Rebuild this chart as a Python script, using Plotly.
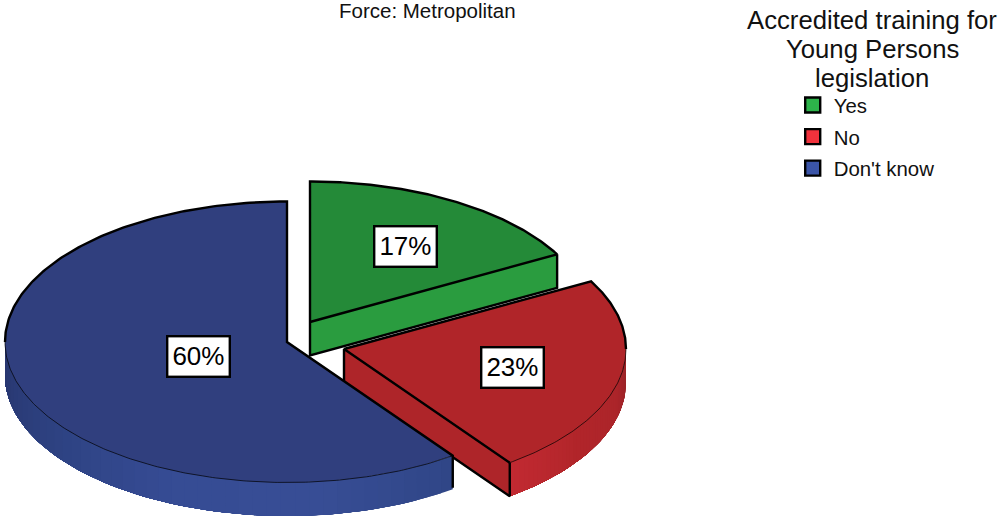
import numpy as np
import plotly.graph_objects as go

# Data
categories = ["Yes", "No", "Don't know"]
percent_values = [17, 23, 60]
percent_labels = ["17%", "23%", "60%"]
chart_title = "Force: Metropolitan"
legend_title_lines = ["Accredited training for", "Young Persons", "legislation"]

# Styles / geometry (pixel-based plot coordinates)
W, H = 999, 517
centres = [(310, 322), (344, 349), (287, 342)]
rx, ry, depth = 282, 140.5, 33.5
top_colors = ["#248a38", "#b02529", "#303f7e"]
side_colors = ["#2a9c3f", "#ae2529", "#2f4587"]
legend_colors = ["#2db34a", "#f0323c", "#3b55a8"]
label_pos = [(405, 246), (512.5, 367.5), (198.5, 356.5)]
legend_title_y = [20, 49, 78]
# wall shade stops: (clockwise angle, colour)
wall_stops = {
    1: [(90, (150, 36, 40)), (105, (172, 37, 42)), (125, (178, 38, 43)), (144, (194, 42, 50))],
    2: [(144, (48, 70, 135)), (175, (56, 78, 150)), (205, (54, 76, 148)), (235, (46, 66, 130)), (270, (40, 54, 110))],
}


def ell(c, th):
    t = np.radians(th)
    return c[0] + rx * np.sin(t), c[1] - ry * np.cos(t)


edges = np.concatenate([[0], np.cumsum(percent_values) * 3.6])
fig = go.Figure()


def poly(xs, ys, color):
    fig.add_trace(go.Scatter(x=list(xs), y=list(ys), mode="lines", fill="toself", fillcolor=color,
                             line=dict(color=color, width=0), showlegend=False, hoverinfo="skip"))


def line(xs, ys, width=2.4):
    fig.add_trace(go.Scatter(x=list(xs), y=list(ys), mode="lines", line=dict(color="black", width=width),
                             showlegend=False, hoverinfo="skip"))


def shade(stops, th):
    a = [s[0] for s in stops]
    return "rgb(%d,%d,%d)" % tuple(np.interp(th, a, [s[1][k] for s in stops]) for k in range(3))


for i in range(3):
    c = centres[i]
    a0, a1 = edges[i], edges[i + 1]
    arc = np.linspace(a0, a1, 160)
    ax, ay = ell(c, arc)
    if i in (0, 1):
        ex, ey = ell(c, a1)
        poly([c[0], ex, ex, c[0], c[0]], [c[1], ey, ey + depth, c[1] + depth, c[1]], side_colors[i])
    if i in wall_stops:
        lo, hi = wall_stops[i][0][0], wall_stops[i][-1][0]
        steps = np.linspace(lo, hi, 45)
        # painted from one end with every piece reaching under the next, so no seams show
        for s0, s1 in zip(steps[:-1], steps[1:]):
            th = np.linspace(s0, hi, 2 + int((hi - s0) / 2))
            tx, ty = ell(c, th)
            poly(np.r_[tx, tx[::-1], tx[0]], np.r_[ty, ty[::-1] + depth, ty[0]], shade(wall_stops[i], (s0 + s1) / 2))
    poly(np.r_[c[0], ax, c[0]], np.r_[c[1], ay, c[1]], top_colors[i])

    # outlines
    sx, sy = ell(c, a0)
    ex, ey = ell(c, a1)
    if i == 0:
        line(np.r_[c[0], ax, c[0]], np.r_[c[1], ay, c[1]])
        line([ex, ex, c[0], c[0]], [ey, ey + depth, c[1] + depth, c[1]])
    elif i == 1:
        tx, ty = ell(c, np.linspace(a0, 90, 80))
        line(np.r_[ex, c[0], tx], np.r_[ey, c[1], ty])
        tx, ty = ell(c, np.linspace(90, a1, 80))
        line(tx, ty, 0.7)
        line([c[0], c[0], ex, ex], [c[1], c[1] + depth, ey + depth, ey])
    else:
        tx, ty = ell(c, np.linspace(a0, 270, 200))
        line(tx, ty, 0.7)
        tx, ty = ell(c, np.linspace(270, 360, 120))
        line(np.r_[tx, c[0], sx, sx], np.r_[ty, c[1], sy, sy + depth - 1.5])

# legend entries
for name, col in zip(categories, legend_colors):
    fig.add_trace(go.Scatter(x=[None], y=[None], mode="markers", name=name, legendgroup=name,
                             marker=dict(symbol="square", size=15, color=col, line=dict(color="black", width=2.4))))

# percentage labels
for txt, (px, py) in zip(percent_labels, label_pos):
    fig.add_annotation(x=px, y=py, xref="x", yref="y", text=txt, showarrow=False,
                       font=dict(family="Liberation Sans", size=26, color="black"),
                       bgcolor="white", bordercolor="black", borderwidth=2.4, borderpad=4)

for txt, py in zip(legend_title_lines, legend_title_y):
    fig.add_annotation(x=872, y=py, xref="x", yref="y", text=txt, showarrow=False,
                       font=dict(family="Liberation Sans", size=25.7, color="#111111"))
fig.add_annotation(x=427.5, y=10, xref="x", yref="y", text=chart_title, showarrow=False,
                   font=dict(family="Liberation Sans", size=20.5, color="#111111"))

fig.update_layout(
    width=W, height=H, margin=dict(l=0, r=0, t=0, b=0), paper_bgcolor="white", plot_bgcolor="white",
    xaxis=dict(range=[0, W], visible=False, fixedrange=True),
    yaxis=dict(range=[H, 0], visible=False, fixedrange=True),
    legend=dict(x=0.7925, y=0.835, xanchor="left", yanchor="top", bgcolor="rgba(0,0,0,0)",
                font=dict(family="Liberation Sans", size=20.4, color="#111111"),
                tracegroupgap=2, itemwidth=32),
    font=dict(family="Liberation Sans"),
)
fig.write_html("out.html", config={"displayModeBar": False}, post_script="document.body.style.margin='0';")
